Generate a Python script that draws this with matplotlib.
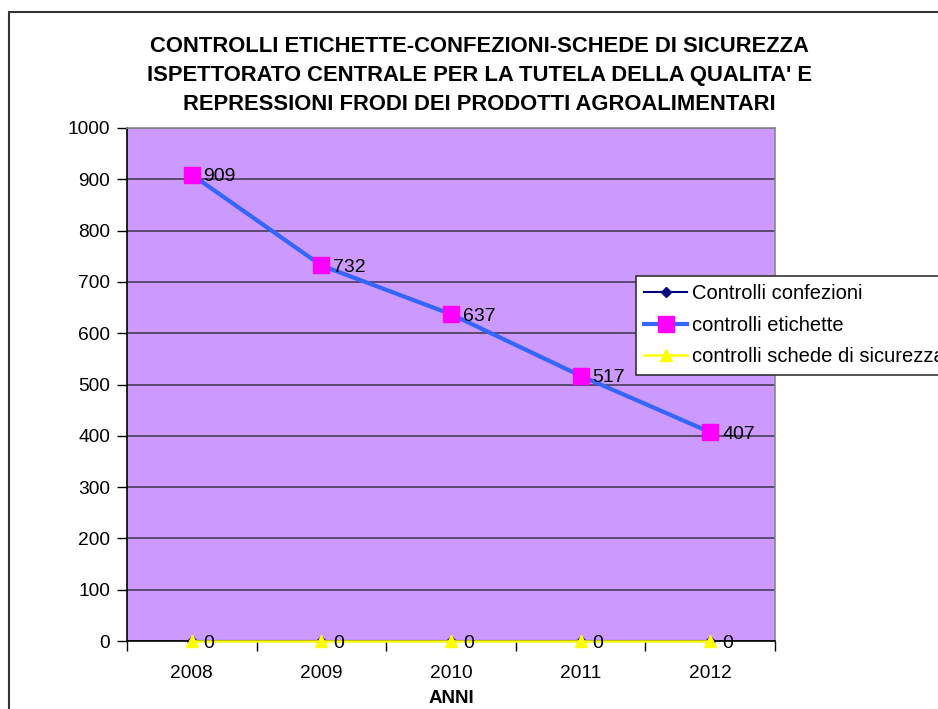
import matplotlib
matplotlib.use("Agg")
import matplotlib.pyplot as plt
from matplotlib.patches import Rectangle

years = ["2008", "2009", "2010", "2011", "2012"]
confezioni = [0, 0, 0, 0, 0]
etichette = [909, 732, 637, 517, 407]
schede = [0, 0, 0, 0, 0]
series_names = ["Controlli confezioni", "controlli etichette", "controlli schede di sicurezza"]
title = ("CONTROLLI ETICHETTE-CONFEZIONI-SCHEDE DI SICUREZZA\n"
         "ISPETTORATO CENTRALE PER LA TUTELA DELLA QUALITA' E\n"
         "REPRESSIONI FRODI DEI PRODOTTI AGROALIMENTARI")
xlabel = "ANNI"
yticks = list(range(0, 1001, 100))

plt.rcParams['font.family'] = ['Liberation Sans', 'DejaVu Sans']

W, H = 938, 709
fig = plt.figure(figsize=(W / 100, H / 100), dpi=100)

# chart area border
fig.patches.append(Rectangle((8.5 / W, -0.1), 1.2, 1.1 - 12 / H, transform=fig.transFigure,
                             fill=False, edgecolor='#333333', linewidth=1.5, zorder=0))

ax = fig.add_axes([127 / W, 1 - 641 / H, (775 - 127) / W, (641 - 128) / H])
ax.set_facecolor('#CC99FF')
x = list(range(len(years)))

ax.set_xlim(-0.5, len(years) - 0.5)
ax.set_ylim(0, 1000)
ax.set_yticks(yticks)
ax.set_yticklabels([str(v) for v in yticks], fontsize=13.8)
ax.yaxis.grid(True, color='#4a3a5a', linewidth=1.2)
ax.set_axisbelow(True)
ax.tick_params(axis='y', length=7, width=1, color='black', pad=5)

ax.set_xticks([i - 0.5 for i in range(len(years) + 1)])
ax.set_xticklabels([])
ax.set_xticks(x, minor=True)
ax.set_xticklabels(years, minor=True, fontsize=13.8)
ax.tick_params(axis='x', which='major', length=7, width=1, color='black')
ax.tick_params(axis='x', which='minor', length=0, pad=17)

for s in ['top', 'right']:
    ax.spines[s].set_color('#888888')
    ax.spines[s].set_linewidth(1.2)
for s in ['left', 'bottom']:
    ax.spines[s].set_color('black')
    ax.spines[s].set_linewidth(1.2)

l1, = ax.plot(x, confezioni, color='#000080', linewidth=1.5, marker='D', markersize=5,
              markerfacecolor='#000080', markeredgecolor='#000080', clip_on=False, zorder=3)
l2, = ax.plot(x, etichette, color='#3366FF', linewidth=3, marker='s', markersize=11.5,
              markerfacecolor='#FF00FF', markeredgecolor='#FF00FF', clip_on=False, zorder=4)
l3, = ax.plot(x, schede, color='#FFFF00', linewidth=1.8, marker='^', markersize=8,
              markerfacecolor='#FFFF00', markeredgecolor='#FFFF00', clip_on=False, zorder=5)

for xi, v in zip(x, etichette):
    ax.annotate(str(v), (xi, v), xytext=(8.5, -1.5), textcoords='offset points',
                ha='left', va='center', fontsize=14, zorder=6)
for xi, v in zip(x, schede):
    ax.annotate(str(v), (xi, v), xytext=(8.5, -1.5), textcoords='offset points',
                ha='left', va='center', fontsize=14, zorder=6, annotation_clip=False)

ax.set_xlabel(xlabel, fontsize=13.5, fontweight='bold', labelpad=6)

fig.text(479 / W, 1 - 75 / H, title, ha='center', va='center', fontsize=15.8,
         fontweight='bold', linespacing=1.5)

leg = fig.legend([l1, l2, l3], series_names, loc='upper left',
                 bbox_to_anchor=(636 / W, 1 - 276 / H), fontsize=14.5,
                 frameon=True, fancybox=False, shadow=False, framealpha=1,
                 edgecolor='#333333', borderpad=0.42, handlelength=2.1,
                 handletextpad=0.25, labelspacing=0.62, borderaxespad=0)
leg.get_frame().set_linewidth(1.2)

fig.savefig('out.png', dpi=100)
